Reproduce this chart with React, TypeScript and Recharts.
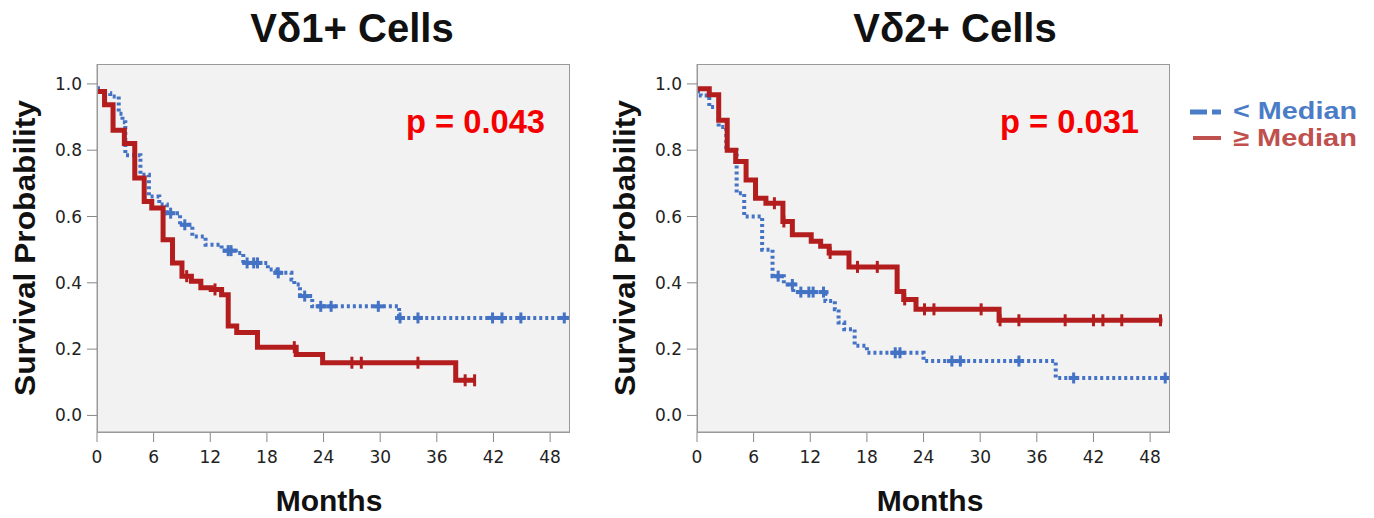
import React from 'react';
import { ComposedChart, Line, Scatter, XAxis, YAxis, CartesianGrid } from 'recharts';

// Kaplan-Meier steps: [month where the step starts, survival from there on]
const v1BelowSteps = [
  [0, 0.987], [0.5, 0.972], [1.4, 0.962], [2.3, 0.91], [2.7, 0.884], [3.0, 0.785],
  [4.6, 0.726], [5.5, 0.66], [6.6, 0.636], [7.4, 0.61], [8.8, 0.575], [10.1, 0.54],
  [11.5, 0.515], [13.2, 0.497], [14.7, 0.49], [15.5, 0.46], [18.1, 0.44], [19.0, 0.43],
  [20.6, 0.41], [20.9, 0.395], [21.5, 0.36], [22.8, 0.329], [32.0, 0.294], [50, 0.294],
];
const v1BelowCensor = [7.8, 9.3, 13.9, 14.2, 15.9, 16.6, 17.0, 19.2, 22.0, 23.7, 24.8, 29.8, 32.1, 34.0, 41.9, 42.9, 44.9, 49.5];

const v1AboveSteps = [
  [0, 0.977], [0.8, 0.937], [1.7, 0.86], [2.9, 0.82], [4.0, 0.716], [5.0, 0.645],
  [5.8, 0.626], [7.0, 0.53], [8.0, 0.46], [9.0, 0.42], [10.0, 0.405], [11.0, 0.385],
  [12.1, 0.38], [13.2, 0.364], [13.9, 0.27], [14.8, 0.25], [17.0, 0.206], [21.1, 0.184],
  [23.9, 0.159], [38.0, 0.106], [40.0, 0.106],
];
const v1AboveCensor = [9.5, 12.5, 20.9, 27.0, 28.0, 34.0, 39.0, 40.0];

const v2BelowSteps = [
  [0, 0.978], [0.4, 0.965], [1.3, 0.93], [2.3, 0.87], [3.1, 0.8], [4.2, 0.67],
  [5.0, 0.6], [6.9, 0.5], [8.0, 0.42], [9.2, 0.395], [10.2, 0.372], [13.6, 0.345],
  [14.6, 0.32], [15.0, 0.28], [15.6, 0.26], [16.7, 0.21], [18.0, 0.189], [24.0, 0.164],
  [38.0, 0.113], [50, 0.113],
];
const v2BelowCensor = [8.6, 10.1, 11.0, 11.85, 12.3, 13.4, 21.0, 21.5, 27.0, 27.9, 34.1, 39.9, 49.6];

const v2AboveSteps = [
  [0, 0.985], [1.3, 0.967], [2.3, 0.89], [3.2, 0.8], [4.1, 0.766], [5.2, 0.71],
  [6.2, 0.655], [7.3, 0.64], [9.1, 0.585], [10.1, 0.545], [12.1, 0.525], [13.1, 0.51],
  [14.0, 0.49], [16.1, 0.448], [21.2, 0.374], [21.9, 0.35], [23.2, 0.32], [32.0, 0.287],
  [49.3, 0.287],
];
const v2AboveCensor = [8.2, 9.2, 14.1, 17.0, 19.1, 22.0, 24.1, 25.1, 30.1, 32.1, 34.1, 39.0, 42.0, 43.0, 45.0, 49.1];

const monthTicks = [0, 6, 12, 18, 24, 30, 36, 42, 48];
const survTicks = [0, 0.2, 0.4, 0.6, 0.8, 1.0];

const BLUE = '#4472c4';
const RED = '#b31d1d';

const toPoints = (steps: number[][]) => steps.map(([m, s]) => ({ m, s }));

// censor marks sit on the curve, so look up the survival at that month
const censorPoints = (steps: number[][], times: number[]) =>
  times.map((m) => {
    let s = steps[0][1];
    for (const [t, v] of steps) if (t <= m) s = v;
    return { m, s };
  });

const redTick = (props: any) => {
  const { cx, cy } = props;
  return <rect x={cx - 1.5} y={cy - 6} width={3} height={12} fill={RED} />;
};

const blueCross = (props: any) => {
  const { cx, cy } = props;
  return (
    <g fill={BLUE}>
      <rect x={cx - 5} y={cy - 2} width={10} height={4} />
      <rect x={cx - 1.5} y={cy - 5.5} width={3} height={11} />
    </g>
  );
};

const tickStyle = { fontFamily: 'DejaVu Sans', fontSize: 17, fill: '#222' };

function KMChart({ below, belowCensor, above, aboveCensor, left }: any) {
  return (
    <div style={{ position: 'absolute', left, top: 0 }}>
      <ComposedChart width={600} height={518} margin={{ top: 64, right: 31, bottom: 0, left: 0 }}>
        <CartesianGrid fill="#f2f2f2" horizontal={false} vertical={false} />
        <XAxis
          dataKey="m"
          type="number"
          domain={[0, 50]}
          ticks={monthTicks}
          allowDataOverflow
          height={86}
          tickSize={10}
          tickMargin={9}
          tick={tickStyle}
          axisLine={{ stroke: '#999' }}
          tickLine={{ stroke: '#888' }}
        />
        <YAxis
          dataKey="s"
          type="number"
          domain={[-0.05, 1.06]}
          ticks={survTicks}
          allowDataOverflow
          width={97}
          tickSize={10}
          tickMargin={5}
          tick={tickStyle}
          tickFormatter={(v: number) => v.toFixed(1)}
          axisLine={{ stroke: '#999' }}
          tickLine={{ stroke: '#888' }}
        />
        <Line
          data={toPoints(below)}
          dataKey="s"
          type="stepAfter"
          stroke={BLUE}
          strokeWidth={4}
          strokeDasharray="3 3"
          dot={false}
          activeDot={false}
          isAnimationActive={false}
        />
        <Scatter data={censorPoints(below, belowCensor)} dataKey="s" shape={blueCross} isAnimationActive={false} />
        <Line
          data={toPoints(above)}
          dataKey="s"
          type="stepAfter"
          stroke={RED}
          strokeWidth={5}
          dot={false}
          activeDot={false}
          isAnimationActive={false}
        />
        <Scatter data={censorPoints(above, aboveCensor)} dataKey="s" shape={redTick} isAnimationActive={false} />
      </ComposedChart>
      <div
        style={{
          position: 'absolute',
          left: 97,
          top: 64,
          width: 473,
          height: 369,
          border: '1px solid #999',
          boxSizing: 'border-box',
          pointerEvents: 'none',
        }}
      />
    </div>
  );
}

const bold = { fontFamily: 'Liberation Sans, Arial, sans-serif', fontWeight: 700 };

export default function App() {
  return (
    <div style={{ position: 'absolute', left: 0, top: 0, width: 1374, height: 518, background: '#fff', overflow: 'hidden' }}>
      <KMChart below={v1BelowSteps} belowCensor={v1BelowCensor} above={v1AboveSteps} aboveCensor={v1AboveCensor} left={0} />
      <KMChart below={v2BelowSteps} belowCensor={v2BelowCensor} above={v2AboveSteps} aboveCensor={v2AboveCensor} left={600} />
      <svg width={1374} height={518} style={{ position: 'absolute', left: 0, top: 0, pointerEvents: 'none' }}>
        <text x={352} y={42} textAnchor="middle" fontSize={40} style={bold} fill="#111">Vδ1+ Cells</text>
        <text x={955} y={42} textAnchor="middle" fontSize={40} style={bold} fill="#111">Vδ2+ Cells</text>

        <text x={406} y={133} fontSize={33} textLength={139} lengthAdjust="spacingAndGlyphs" style={bold} fill="#f40000">p = 0.043</text>
        <text x={1000} y={133} fontSize={33} textLength={139} lengthAdjust="spacingAndGlyphs" style={bold} fill="#f40000">p = 0.031</text>

        <text transform="translate(35,248) rotate(-90)" textAnchor="middle" fontSize={30} textLength={296} lengthAdjust="spacingAndGlyphs" style={bold} fill="#111">Survival Probability</text>
        <text transform="translate(635,248) rotate(-90)" textAnchor="middle" fontSize={30} textLength={296} lengthAdjust="spacingAndGlyphs" style={bold} fill="#111">Survival Probability</text>

        <text x={329} y={511} textAnchor="middle" fontSize={30} style={bold} fill="#111">Months</text>
        <text x={930} y={511} textAnchor="middle" fontSize={30} style={bold} fill="#111">Months</text>

        <line x1={1190} y1={112} x2={1221} y2={112} stroke="#4a7cc7" strokeWidth={5} strokeDasharray="17 5" />
        <text x={1233} y={119} fontSize={24} textLength={124} lengthAdjust="spacingAndGlyphs" style={bold} fill="#4a7cc7">&lt; Median</text>
        <line x1={1193} y1={138} x2={1221} y2={138} stroke="#c0504d" strokeWidth={4} />
        <text x={1233} y={146} fontSize={24} textLength={124} lengthAdjust="spacingAndGlyphs" style={bold} fill="#c0504d">≥ Median</text>
      </svg>
    </div>
  );
}
